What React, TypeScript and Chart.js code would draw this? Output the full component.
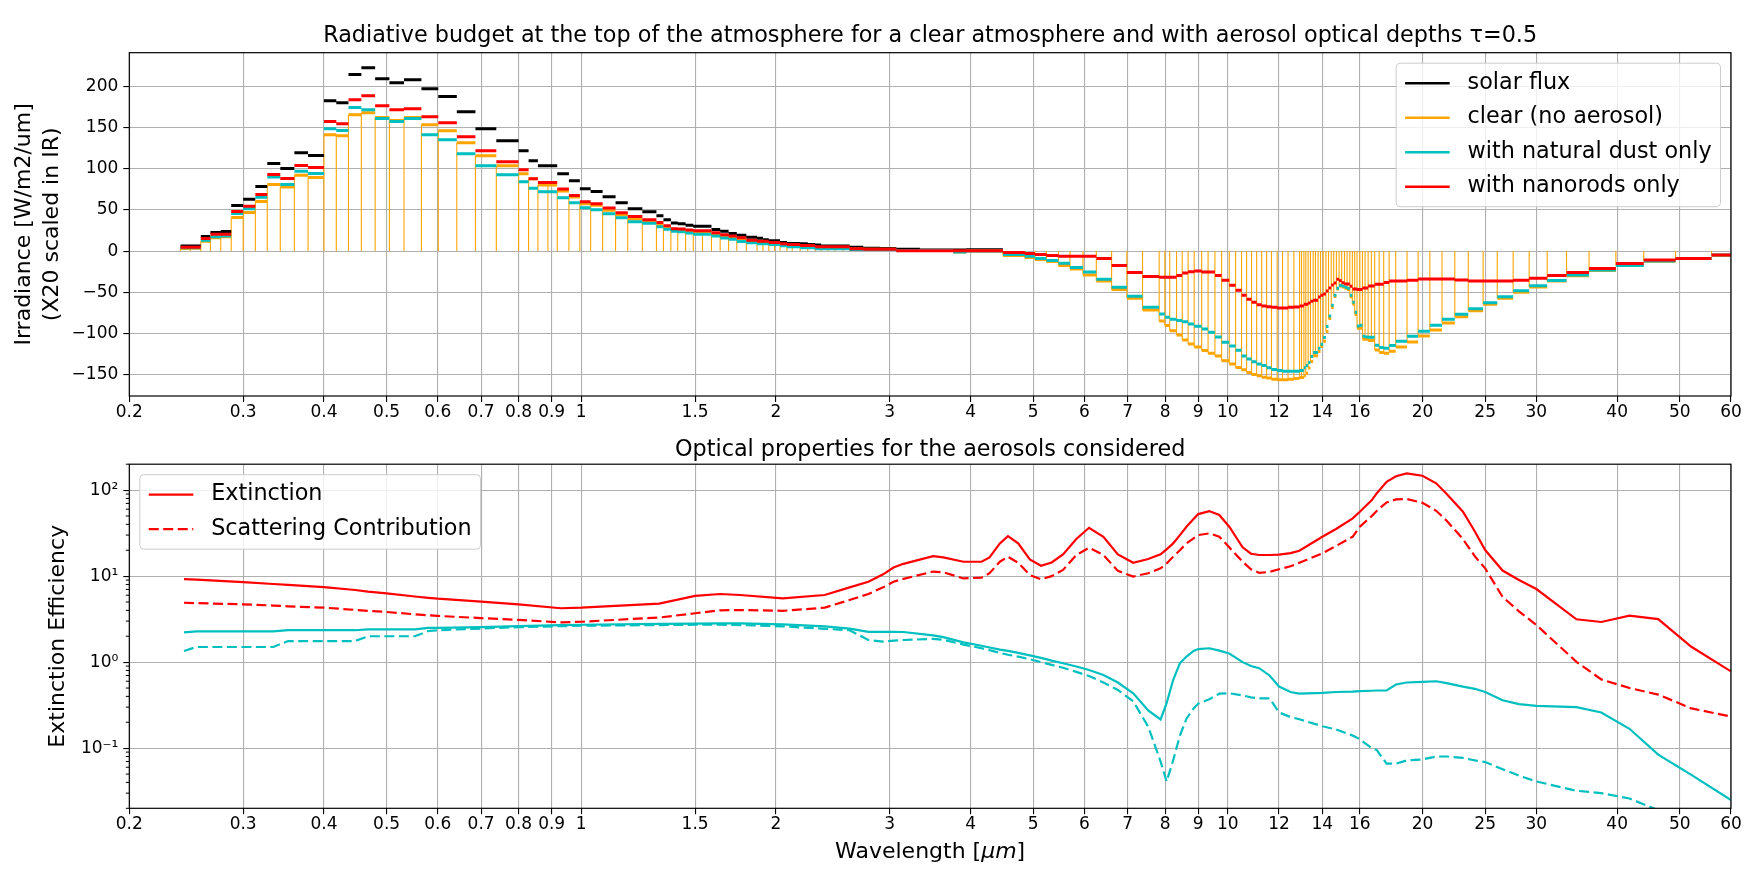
import { useEffect, useRef } from "react"
import { Chart, registerables } from "chart.js"

Chart.register(...registerables)

const FONT = "'DejaVu Sans', 'Liberation Sans', sans-serif"

// ---- top panel: spectral bands (µm). band i spans bandEdges[i]..bandEdges[i+1]
const bandEdges = [
  0.24, 0.2485, 0.258, 0.267, 0.277, 0.2875, 0.3, 0.3133, 0.3269, 0.3424,
  0.36, 0.378, 0.4, 0.418, 0.4365, 0.457, 0.48, 0.505, 0.532, 0.566,
  0.601, 0.642, 0.686, 0.739, 0.8, 0.829, 0.857, 0.888, 0.918, 0.957,
  0.995, 1.034, 1.079, 1.13, 1.18, 1.243, 1.307, 1.34, 1.376, 1.41,
  1.45, 1.49, 1.54, 1.59, 1.64, 1.69, 1.74, 1.8, 1.87, 1.91,
  1.95, 1.99, 2.03, 2.08, 2.12, 2.18, 2.24, 2.3, 2.35, 2.41,
  2.47, 2.54, 2.6, 2.73, 2.9, 3.07, 3.34, 3.76, 3.94, 4.49,
  4.85, 5.03, 5.24, 5.47, 5.7, 5.97, 6.26, 6.61, 6.98, 7.38,
  7.83, 7.99, 8.13, 8.33, 8.5, 8.68, 8.87, 9.11, 9.32, 9.55,
  9.78, 10.05, 10.28, 10.5, 10.69, 10.88, 11.08, 11.28, 11.48, 11.68,
  11.92, 12.15, 12.39, 12.65, 12.91, 13.0, 13.11, 13.2, 13.31, 13.42,
  13.55, 13.66, 13.79, 13.91, 14.04, 14.18, 14.31, 14.45, 14.58, 14.72,
  14.86, 15.0, 15.15, 15.29, 15.44, 15.58, 15.71, 15.84, 16.0, 16.15,
  16.3, 16.48, 16.67, 16.87, 17.14, 17.42, 17.76, 18.18, 18.93, 19.69,
  20.53, 21.44, 22.44, 23.54, 24.82, 26.1, 27.62, 29.24, 31.18, 33.4,
  36.19, 39.82, 43.98, 49.24, 55.98, 60,
]

// solar flux only in the shortwave bands
const solarFlux = [
  6.1, 6.1, 17.8, 22.6, 23.8, 55.4, 63, 78.4, 106.3, 100.2,
  119.6, 116, 182.6, 180.2, 214.5, 222.6, 209.3, 204.4, 208.1, 197.2,
  187.9, 169.3, 148.6, 134.1, 121.9, 109.8, 103.7, 103.7, 94, 85.5,
  75.8, 72.5, 66.1, 58.8, 51.5, 47.9, 43, 38.2, 34.1, 33.3,
  31.5, 30.3, 30.3, 26.3, 24.2, 21.4, 19.2, 16.8, 15.6, 13.7,
  12.5, 12.5, 10.5, 9.3, 9.3, 8.9, 8.1, 7.3, 6.1, 6.1,
  6.1, 6.1, 4.8, 3.6, 3.2, 2.4, 1.2, 1.2, 1.6,
]

const clearFlux = [
  3.2, 3.6, 12.1, 16.2, 17.4, 40.8, 46.9, 60.2, 80.8, 78,
  92.1, 89.3, 141.4, 140.1, 165.6, 168, 162.3, 158.7, 162.3, 153.4,
  146.1, 131.6, 115.8, 103.7, 94, 88, 80.3, 80.3, 73.1, 65.8,
  57.6, 55.6, 49.5, 44.2, 39, 35.4, 32.1, 28.5, 25.3, 25,
  23.5, 22, 21.5, 19.5, 17, 15.5, 13, 11.2, 10, 10,
  9, 9, 7.5, 6.5, 6.5, 5, 5, 3.8, 3.8, 3.5,
  3.5, 3.5, 2.5, 2.2, 2.2, 0.8, 0.8, -1.2, 0, -5.3,
  -7.7, -10.1, -12.5, -17.4, -21.8, -29.1, -36.4, -46.5, -57.4, -71.5,
  -84.8, -90.5, -96.6, -101.8, -107.9, -112.7, -116.4, -120.8, -124, -127.3,
  -133.3, -137, -141.4, -144.2, -147.5, -149.9, -151.5, -153.1, -154, -155.6,
  -156.4, -156.4, -155.6, -154.8, -153.5, -153.5, -151.5, -148.3, -142, -134,
  -127, -127, -122, -116, -109.5, -97.8, -82, -68.5, -55, -46,
  -42.5, -43.5, -45, -46.5, -55.5, -64.5, -77, -93.7, -93.7, -107,
  -107, -108.7, -108.7, -120, -123.2, -124, -121.6, -116.4, -110.3, -103,
  -95.8, -87.3, -79.6, -72.3, -64.6, -57.4, -50.1, -43.5, -36.4, -30,
  -23.5, -17.6, -12.3, -9, -5,
]

const dustFlux = [
  4, 4, 13.3, 17.4, 18.2, 45.7, 51.3, 65.5, 90.1, 80.8,
  97, 94.2, 148.6, 146.6, 174.5, 171.6, 161.1, 157.5, 161.1, 141.3,
  135.3, 118.3, 103.7, 92.8, 84.3, 76.2, 72.1, 72.1, 64.9, 58.8,
  52.8, 50.3, 45.5, 40.6, 35.8, 33.7, 29.7, 26.5, 24, 23.5,
  22, 20.4, 20.6, 18.2, 15.8, 14.5, 11.7, 10.1, 8.9, 8.9,
  8.1, 8.1, 6.5, 5.3, 5.3, 4, 4, 2.8, 2.8, 2.8,
  2.8, 2.8, 2, 2, 2, 0.8, 0.8, -1.2, 0, -4,
  -6.1, -8.9, -11.3, -14.9, -19.8, -25.5, -34.3, -44, -54.9, -68.3,
  -76.4, -80.4, -82.8, -84.4, -85.7, -88.5, -91.3, -94.5, -98.6, -104.2,
  -110.7, -115.2, -120.4, -127.3, -131, -134.3, -137, -139, -141.8, -143.8,
  -145, -145.9, -145.9, -145.9, -145, -145, -141.8, -139, -135.4, -128.1,
  -123.2, -123.2, -117.9, -113.1, -105, -91.7, -78.8, -65.9, -53.7, -45.2,
  -41.6, -42.4, -44, -45.2, -53.7, -62.2, -74.3, -90.9, -90.1, -103.4,
  -104.2, -104.6, -104.6, -114.3, -117.1, -117.9, -114.7, -109.4, -103.4, -97.4,
  -90.1, -82.8, -76.8, -69.9, -62.6, -55.4, -48.1, -42, -35.6, -29.1,
  -23, -17.4, -12.1, -8.9, -4.8,
]

const nanoFlux = [
  4.8, 4.8, 15.4, 20.6, 20.6, 48.1, 54.6, 68.7, 93, 88.1,
  103.9, 101.5, 157.5, 154.7, 183.8, 188.6, 176.5, 171.6, 172.9, 163.2,
  155.9, 138.9, 121.9, 108.6, 98.9, 88, 83.2, 83.2, 75.4, 67.4,
  60.1, 57.6, 52.4, 46.7, 41.9, 38.2, 34.6, 30.9, 27.3, 27,
  25.5, 24.6, 24.6, 22.2, 19.8, 18.2, 16.2, 13.3, 12.1, 12.1,
  10.5, 10.5, 8.9, 8.1, 8.1, 6.9, 6.9, 5.3, 5.3, 5.3,
  5.3, 5.3, 2.8, 2.4, 2.4, 0.4, 0.4, 0.4, 0.4, -1.6,
  -2.8, -4, -5.3, -6.1, -6.1, -6.1, -8.9, -17.4, -25.9, -30.7,
  -31.9, -31.9, -31.9, -29.5, -26.7, -25.1, -24.2, -25.5, -25.5, -29.5,
  -35.5, -41.6, -47.6, -53.7, -58.6, -62.2, -65.1, -66.7, -67.5, -68.3,
  -69.1, -69.1, -68.3, -67.9, -66.7, -66.7, -64.6, -64.6, -63, -61,
  -59.8, -59.8, -55.8, -53.7, -52.1, -48.5, -44.8, -41.2, -38.8, -34.3,
  -36, -38.4, -40, -40, -42.8, -46.1, -46.1, -46.5, -46.5, -44.8,
  -44.8, -42.4, -42.4, -40.4, -40.4, -38, -36.4, -36.4, -35.5, -34,
  -34, -34, -35.2, -36.4, -36.4, -36.4, -35.5, -33.1, -29.5, -25.9,
  -21, -15, -10.9, -8.9, -4.8,
]

// ---- bottom panel: optical properties
const wavelengths = [
  0.243, 0.254, 0.3, 0.334, 0.352, 0.4, 0.447, 0.468, 0.5, 0.553,
  0.58, 0.6, 0.7, 0.8, 0.93, 1.0, 1.32, 1.5, 1.64, 1.76,
  2.05, 2.38, 2.6, 2.78, 2.93, 3.04, 3.15, 3.5, 3.63, 3.9,
  4.16, 4.28, 4.44, 4.57, 4.74, 4.94, 5.14, 5.34, 5.56, 5.83,
  6.1, 6.42, 6.76, 7.14, 7.53, 7.87, 8.04, 8.23, 8.43, 8.63,
  8.85, 9.0, 9.36, 9.7, 10.05, 10.54, 10.86, 11.18, 11.6, 12.0,
  12.5, 12.9, 14.0, 14.7, 15.6, 16.0, 16.7, 17.0, 17.6, 18.2,
  18.9, 20.0, 21.0, 21.8, 23.1, 24.1, 25.0, 26.6, 28.2, 30.0,
  34.6, 37.8, 41.8, 46.3, 52.1, 60,
]

const extinction = [
  9.25, 9.1, 8.5, 8.1, 7.9, 7.45, 6.9, 6.6, 6.3, 5.8,
  5.6, 5.47, 5.06, 4.7, 4.23, 4.3, 4.8, 5.9, 6.2, 6.03,
  5.52, 6.03, 7.4, 8.61, 10.5, 12.6, 13.9, 17.1, 16.5, 14.7,
  14.7, 16.5, 24, 29.2, 24, 15.6, 13.2, 14.4, 17.9, 27,
  36.5, 28.7, 17.9, 14.3, 15.8, 17.9, 20.5, 24, 30, 37.5,
  46, 52.6, 57, 51.3, 37.5, 21.6, 18.2, 17.6, 17.6, 17.8,
  18.5, 19.7, 28.7, 35.3, 47, 56, 76.6, 92, 125, 145,
  156, 147, 120, 90, 56, 33, 20.1, 11.6, 9, 7.08,
  3.15, 2.93, 3.47, 3.16, 1.51, 0.78,
]

const scattering = [
  4.9, 4.85, 4.7, 4.55, 4.45, 4.3, 4.05, 3.95, 3.83, 3.6,
  3.5, 3.45, 3.25, 3.1, 2.9, 2.95, 3.3, 3.7, 4.0, 4.04,
  3.95, 4.3, 5.28, 6.2, 7.4, 8.61, 9.3, 11.3, 11.1, 9.4,
  9.6, 10.8, 14.7, 16.8, 14.3, 10.3, 9.2, 10, 11.8, 17.6,
  21.4, 17.6, 11.5, 9.9, 10.8, 12.3, 14, 16.8, 20, 24,
  27.5, 30, 31.4, 28.7, 21.6, 14.7, 12, 10.9, 11.2, 12,
  13, 14.3, 18.4, 22.4, 28.8, 37.5, 50, 57.5, 72, 78,
  79, 71, 57.5, 44, 27, 17, 12.3, 5.73, 3.9, 2.7,
  1.01, 0.63, 0.5, 0.42, 0.29, 0.233,
]

const dustExtinction = [
  2.22, 2.28, 2.28, 2.28, 2.35, 2.35, 2.35, 2.4, 2.4, 2.4,
  2.5, 2.5, 2.56, 2.62, 2.7, 2.72, 2.78, 2.8, 2.82, 2.83,
  2.75, 2.6, 2.45, 2.25, 2.25, 2.25, 2.24, 2.05, 1.95, 1.7,
  1.55, 1.48, 1.4, 1.35, 1.28, 1.2, 1.12, 1.04, 0.97, 0.89,
  0.81, 0.71, 0.58, 0.435, 0.274, 0.216, 0.333, 0.62, 0.97, 1.16,
  1.35, 1.42, 1.45, 1.36, 1.26, 1.0, 0.9, 0.85, 0.7, 0.52,
  0.45, 0.43, 0.44, 0.45, 0.455, 0.46, 0.465, 0.468, 0.47, 0.55,
  0.58, 0.59, 0.6, 0.57, 0.52, 0.49, 0.45, 0.36, 0.325, 0.31,
  0.3, 0.26, 0.168, 0.084, 0.049, 0.025,
]

const dustScattering = [
  1.35, 1.5, 1.5, 1.5, 1.76, 1.76, 1.76, 2.0, 2.0, 2.0,
  2.3, 2.35, 2.46, 2.55, 2.62, 2.65, 2.7, 2.72, 2.72, 2.7,
  2.61, 2.44, 2.35, 1.81, 1.73, 1.78, 1.81, 1.86, 1.82, 1.6,
  1.45, 1.38, 1.28, 1.22, 1.16, 1.08, 1.0, 0.93, 0.86, 0.77,
  0.69, 0.58, 0.475, 0.35, 0.178, 0.07, 0.041, 0.072, 0.14, 0.22,
  0.29, 0.33, 0.37, 0.43, 0.435, 0.41, 0.39, 0.38, 0.38, 0.26,
  0.23, 0.217, 0.18, 0.165, 0.14, 0.127, 0.1, 0.095, 0.066, 0.066,
  0.072, 0.074, 0.08, 0.08, 0.077, 0.072, 0.069, 0.057, 0.048, 0.041,
  0.032, 0.03, 0.026, 0.019, 0.015, 0.011,
]

const xTicks = [0.2, 0.3, 0.4, 0.5, 0.6, 0.7, 0.8, 0.9, 1, 1.5, 2, 3, 4, 5, 6, 7, 8, 9, 10, 12, 14, 16, 20, 25, 30, 40, 50, 60]
const fluxTicks = [-150, -100, -50, 0, 50, 100, 150, 200]
const effTicks = [0.1, 1, 10, 100]

const SUP: Record<string, string> = { "-": "\u207B", "0": "\u2070", "1": "\u00B9", "2": "\u00B2", "3": "\u00B3" }

// horizontal segment per band, broken between bands
function stepPoints(values: (number | null)[]) {
  const pts: { x: number; y: number | null }[] = []
  values.forEach((v, i) => {
    if (v == null) return
    pts.push({ x: bandEdges[i], y: v }, { x: bandEdges[i + 1], y: v }, { x: bandEdges[i + 1], y: null })
  })
  return pts
}

// thin vertical line at each band's lower edge, from 0 to the clear-sky value
function stemPoints(values: number[]) {
  const pts: { x: number; y: number | null }[] = []
  values.forEach((v, i) => {
    pts.push({ x: bandEdges[i], y: 0 }, { x: bandEdges[i], y: v }, { x: bandEdges[i], y: null })
  })
  return pts
}

type LegendItem = { label: string; color: string; width: number; dash?: number[] }

function drawLegend(ctx: CanvasRenderingContext2D, items: LegendItem[], x: number, y: number, alignRight: boolean) {
  const fs = 22.3
  ctx.save()
  ctx.font = `${fs}px ${FONT}`
  const textW = Math.max(...items.map((i) => ctx.measureText(i.label).width))
  const pad = 0.4 * fs
  const handle = 2 * fs
  const gap = 0.8 * fs
  const rowH = 34.5
  const first = 20
  const w = pad + handle + gap + textW + pad
  const h = first * 2 + rowH * (items.length - 1)
  const left = alignRight ? x - w : x
  ctx.beginPath()
  ctx.roundRect(left, y, w, h, 4)
  ctx.fillStyle = "rgba(255,255,255,0.8)"
  ctx.fill()
  ctx.strokeStyle = "#cccccc"
  ctx.lineWidth = 1
  ctx.stroke()
  items.forEach((it, i) => {
    const cy = y + first + i * rowH
    ctx.beginPath()
    ctx.setLineDash(it.dash || [])
    ctx.strokeStyle = it.color
    ctx.lineWidth = it.width
    ctx.moveTo(left + pad, cy)
    ctx.lineTo(left + pad + handle, cy)
    ctx.stroke()
    ctx.setLineDash([])
    ctx.fillStyle = "#000"
    ctx.textBaseline = "middle"
    ctx.textAlign = "left"
    ctx.fillText(it.label, left + pad + handle + gap, cy)
  })
  ctx.restore()
}

const frame = {
  id: "frame",
  afterDatasetsDraw(chart: any) {
    const { ctx, chartArea: a } = chart
    ctx.save()
    ctx.strokeStyle = "#000"
    ctx.lineWidth = 1.2
    ctx.strokeRect(a.left, a.top, a.right - a.left, a.bottom - a.top)
    ctx.restore()
  },
}

const gridOpts = { color: "#b0b0b0", lineWidth: 1.1, tickColor: "#000", tickLength: 6, tickWidth: 1.1, drawTicks: true }
const tickFont = { family: FONT, size: 17 }

function xScale(height: number) {
  return {
    type: "logarithmic",
    min: 0.2,
    max: 60,
    bounds: "data",
    afterBuildTicks: (s: any) => {
      s.ticks = xTicks.map((v) => ({ value: v }))
    },
    afterFit: (s: any) => {
      s.height = height
      s.paddingLeft = 0
      s.paddingRight = 0
    },
    ticks: { autoSkip: false, maxRotation: 0, minRotation: 0, padding: 0, font: tickFont, color: "#000", callback: (v: any) => String(v) },
    grid: gridOpts,
    border: { display: false },
  }
}

export default function App() {
  const topRef = useRef<HTMLCanvasElement>(null)
  const bottomRef = useRef<HTMLCanvasElement>(null)

  useEffect(() => {
    if (!topRef.current || !bottomRef.current) return
    Chart.defaults.font.family = FONT
    Chart.defaults.color = "#000"

    const seg = (data: any, color: string, order: number) => ({
      data,
      borderColor: color,
      backgroundColor: color,
      borderWidth: 3,
      pointRadius: 0,
      fill: false,
      tension: 0,
      spanGaps: false,
      order,
      clip: 0,
    })

    const topLegend = {
      id: "topLegend",
      afterDraw(chart: any) {
        drawLegend(
          chart.ctx,
          [
            { label: "solar flux", color: "#000000", width: 2.6 },
            { label: "clear (no aerosol)", color: "#ffa500", width: 2.6 },
            { label: "with natural dust only", color: "#00bfbf", width: 2.6 },
            { label: "with nanorods only", color: "#ff0000", width: 2.6 },
          ],
          chart.chartArea.right - 10.5,
          chart.chartArea.top + 10.5,
          true,
        )
      },
    }

    const topChart = new Chart(topRef.current, {
      type: "line",
      data: {
        datasets: [
          { ...seg(stemPoints(clearFlux), "#ffa500", 4), borderWidth: 1.1 },
          seg(stepPoints(solarFlux), "#000000", 3),
          seg(stepPoints(clearFlux), "#ffa500", 2),
          seg(stepPoints(dustFlux), "#00bfbf", 1),
          seg(stepPoints(nanoFlux), "#ff0000", 0),
        ],
      },
      options: {
        responsive: false,
        animation: false,
        events: [],
        layout: { padding: { left: 0, right: 17, top: 0.7, bottom: 0 } },
        scales: {
          x: xScale(36) as any,
          y: {
            type: "linear",
            min: -176,
            max: 241,
            afterBuildTicks: (s: any) => {
              s.ticks = fluxTicks.map((v) => ({ value: v }))
            },
            afterFit: (s: any) => {
              s.width = 129.3
              s.paddingTop = 0
              s.paddingBottom = 0
            },
            ticks: {
              padding: 5,
              font: tickFont,
              color: "#000",
              callback: (v: any) => (v < 0 ? "\u2212" + Math.abs(v) : String(v)),
            },
            grid: gridOpts,
            border: { display: false },
            title: {
              display: true,
              text: ["Irradiance [W/m2/um]", "(X20 scaled in IR)"],
              font: { family: FONT, size: 22, lineHeight: 1.25 },
              color: "#000",
              padding: { top: 10.8, bottom: 0 },
            },
          },
        },
        plugins: {
          legend: { display: false },
          tooltip: { enabled: false },
          title: {
            display: true,
            text: "Radiative budget at the top of the atmosphere for a clear atmosphere and with aerosol optical depths \u03C4=0.5",
            font: { family: FONT, size: 22.3, weight: "normal", lineHeight: 1.2 },
            color: "#000",
            padding: { top: 22.4, bottom: 2.84 },
            fullSize: false,
          },
        },
      },
      plugins: [frame, topLegend],
    })

    const line = (values: number[], color: string, dash: number[]) => ({
      data: values.map((v, i) => ({ x: wavelengths[i], y: v })),
      borderColor: color,
      backgroundColor: color,
      borderWidth: 2.2,
      borderDash: dash,
      pointRadius: 0,
      fill: false,
      tension: 0,
      clip: 0,
    })

    const bottomDecor = {
      id: "bottomDecor",
      afterDatasetsDraw(chart: any) {
        const { ctx, chartArea: a } = chart
        const y = chart.scales.y
        // minor ticks on the log axis
        ctx.save()
        ctx.strokeStyle = "#000"
        ctx.lineWidth = 1
        for (let e = -2; e <= 2; e++) {
          for (let m = 2; m <= 9; m++) {
            const v = m * Math.pow(10, e)
            if (v < 0.02 || v > 200) continue
            const py = y.getPixelForValue(v)
            ctx.beginPath()
            ctx.moveTo(a.left - 3.5, py)
            ctx.lineTo(a.left, py)
            ctx.stroke()
          }
        }
        ctx.restore()
      },
      afterDraw(chart: any) {
        const { ctx, chartArea: a } = chart
        drawLegend(
          ctx,
          [
            { label: "Extinction", color: "#ff0000", width: 2.2 },
            { label: "Scattering Contribution", color: "#ff0000", width: 2.2, dash: [10, 4.5] },
          ],
          a.left + 10.5,
          a.top + 10.5,
          false,
        )
        // x-axis label with italic µm
        const parts = [
          { t: "Wavelength [", f: `22px ${FONT}` },
          { t: "\u03BCm", f: `italic 22px ${FONT}` },
          { t: "]", f: `22px ${FONT}` },
        ]
        ctx.save()
        let total = 0
        parts.forEach((p) => {
          ctx.font = p.f
          total += ctx.measureText(p.t).width
        })
        let x = (a.left + a.right) / 2 - total / 2
        const ty = a.bottom + 44.4
        ctx.fillStyle = "#000"
        ctx.textBaseline = "middle"
        ctx.textAlign = "left"
        parts.forEach((p) => {
          ctx.font = p.f
          ctx.fillText(p.t, x, ty)
          x += ctx.measureText(p.t).width
        })
        ctx.restore()
      },
    }

    const bottomChart = new Chart(bottomRef.current, {
      type: "line",
      data: {
        datasets: [
          line(extinction, "#ff0000", []),
          line(scattering, "#ff0000", [10, 4.5]),
          line(dustExtinction, "#00bfbf", []),
          line(dustScattering, "#00bfbf", [10, 4.5]),
        ],
      },
      options: {
        responsive: false,
        animation: false,
        events: [],
        layout: { padding: { left: 0, right: 17, top: 0, bottom: 0 } },
        scales: {
          x: xScale(64.7) as any,
          y: {
            type: "logarithmic",
            min: 0.02,
            max: 200,
            bounds: "data",
            afterBuildTicks: (s: any) => {
              s.ticks = effTicks.map((v) => ({ value: v }))
            },
            afterFit: (s: any) => {
              s.width = 129.3
              s.paddingTop = 0
              s.paddingBottom = 0
            },
            ticks: {
              padding: 5,
              font: tickFont,
              color: "#000",
              callback: (v: any) =>
                "10" +
                String(Math.round(Math.log10(v)))
                  .split("")
                  .map((c) => SUP[c])
                  .join(""),
            },
            grid: gridOpts,
            border: { display: false },
            title: {
              display: true,
              text: "Extinction Efficiency",
              font: { family: FONT, size: 22, lineHeight: 1.2 },
              color: "#000",
              padding: { top: 44.8, bottom: 0 },
            },
          },
        },
        plugins: {
          legend: { display: false },
          tooltip: { enabled: false },
          title: {
            display: true,
            text: "Optical properties for the aerosols considered",
            font: { family: FONT, size: 22.3, weight: "normal", lineHeight: 1.2 },
            color: "#000",
            padding: { top: 4.6, bottom: 0.84 },
            fullSize: false,
          },
        },
      },
      plugins: [frame, bottomDecor],
    })

    return () => {
      topChart.destroy()
      bottomChart.destroy()
    }
  }, [])

  return (
    <div style={{ position: "absolute", left: 0, top: 0, width: 1748, height: 873, background: "#fff" }}>
      <canvas ref={topRef} width={1748} height={432} style={{ position: "absolute", left: 0, top: 0 }} />
      <canvas ref={bottomRef} width={1748} height={441} style={{ position: "absolute", left: 0, top: 432 }} />
    </div>
  )
}
